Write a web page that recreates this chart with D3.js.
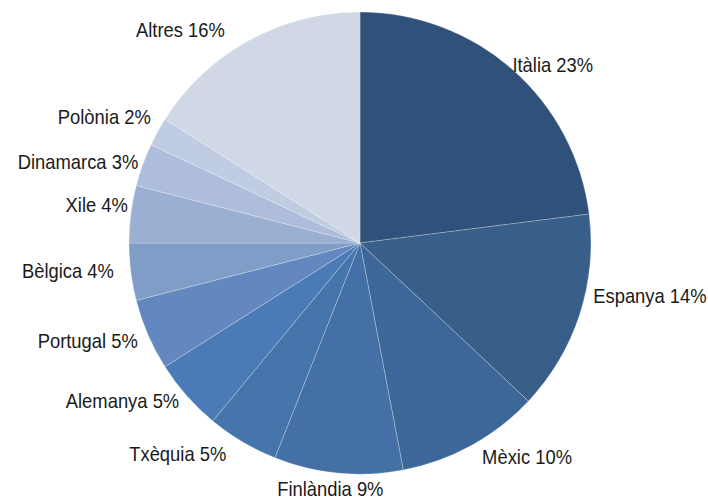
<!DOCTYPE html>
<html>
<head>
<meta charset="utf-8">
<script src="https://cdn.jsdelivr.net/npm/d3@7"></script>
<style>
  body { margin: 0; background: #fff; }
  text { font-family: "Liberation Sans Narrow", "Liberation Sans", Arial, sans-serif; }
</style>
</head>
<body>
<div id="chart"></div>
<script>
// chart data
var countries = ["Itàlia", "Espanya", "Mèxic", "Finlàndia", "Txèquia", "Alemanya",
                 "Portugal", "Bèlgica", "Xile", "Dinamarca", "Polònia", "Altres"];
var shares = [23, 14, 10, 9, 5, 5, 5, 4, 4, 3, 2, 16];
var colours = ["#30527a", "#385e8a", "#3d6699", "#4470a5", "#4675ac", "#4a7bb6",
               "#6388c0", "#809dc8", "#9aafd1", "#adbddb", "#bfcce2", "#d0d8e6"];

// small hand nudges so labels sit where the original put them
var labelNudge = [[-7, 3], [4, -21], [6, 3], [-7, 6], [-11, 4], [0, -1],
                  [-1, 2], [-7, -2], [7, -8], [5, 1], [2, -10], [-19, -2]];

var w = 708;
var h = 502;
var cx = 360, cy = 243, r = 231;

var svg = d3.select("#chart")
            .append("svg")
            .attr("width", w)
            .attr("height", h);

var dataset = countries.map(function(c, i) {
    return { name: c, value: shares[i], colour: colours[i], nudge: labelNudge[i] };
});

var pie = d3.pie()
            .value(function(d) { return d.value; })
            .sort(null);

var arc = d3.arc().innerRadius(0).outerRadius(r);
var labelArc = d3.arc().innerRadius(r + 10).outerRadius(r + 10);

var g = svg.append("g").attr("transform", "translate(" + cx + "," + cy + ")");

g.selectAll("path")
 .data(pie(dataset))
 .enter()
 .append("path")
 .attr("d", arc)
 .attr("fill", function(d) { return d.data.colour; })
 .attr("stroke", "#ffffff")
 .attr("stroke-opacity", 0.3)
 .attr("stroke-width", 0.8);

g.selectAll("text")
 .data(pie(dataset))
 .enter()
 .append("text")
 .text(function(d) { return d.data.name + " " + d.data.value + "%"; })
 .attr("transform", function(d) {
     var c = labelArc.centroid(d);
     return "translate(" + (c[0] + d.data.nudge[0]) + "," + (c[1] + d.data.nudge[1]) + ") scale(0.92,1)";
 })
 .attr("dy", "0.35em")
 .attr("text-anchor", function(d) {
     var s = Math.sin((d.startAngle + d.endAngle) / 2);
     if (s > 0.3) return "start";
     if (s < -0.3) return "end";
     return "middle";
 })
 .attr("font-size", "20px")
 .attr("fill", "#1a1a1a");
</script>
</body>
</html>
